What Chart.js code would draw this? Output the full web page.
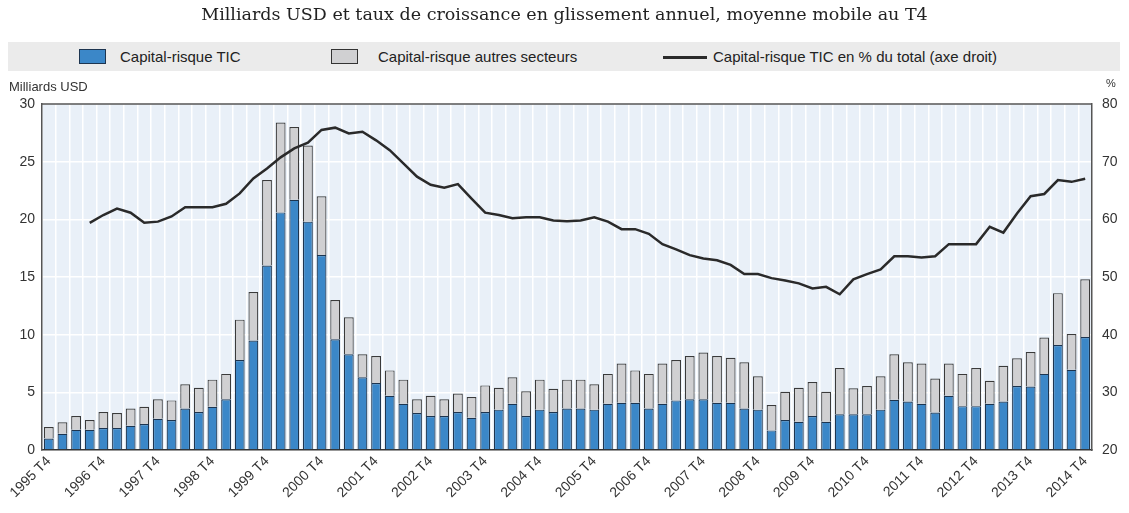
<!DOCTYPE html>
<html lang="fr">
<head>
<meta charset="utf-8">
<script src="https://cdn.jsdelivr.net/npm/chart.js@4.4.1/dist/chart.umd.min.js"></script>
<style>
  body { margin: 0; background: #fff; }
  #wrap { position: relative; width: 1129px; height: 513px; overflow: hidden; }
  #chart { position: absolute; left: 0; top: 0; }
  .txt { position: absolute; white-space: nowrap; color: #222; }
  #title { left: 0; width: 1129px; top: 4px; text-align: center; font: 17.5px "DejaVu Serif", serif; }
  #legend { position: absolute; left: 8px; top: 42px; width: 1112px; height: 29px; background: #ebebeb; }
  .lg { font: 15px "Liberation Sans", Arial, sans-serif; color: #222; top: 48px; }
  .sw { position: absolute; top: 49px; width: 25px; height: 13px; border: 1px solid #333; }
  .axt { font: 13px "Liberation Sans", Arial, sans-serif; color: #333; }
</style>
</head>
<body>
<div id="wrap">
  <canvas id="chart" width="1129" height="513"></canvas>
  <div id="title" class="txt">Milliards USD et taux de croissance en glissement annuel, moyenne mobile au T4</div>
  <div id="legend"></div>
  <div class="sw" style="left:79px; background:#3b87c8; border-color:#1d3550;"></div>
  <div class="txt lg" style="left:120px;">Capital-risque TIC</div>
  <div class="sw" style="left:331px; background:#d0d0d2;"></div>
  <div class="txt lg" style="left:378px;">Capital-risque autres secteurs</div>
  <div style="position:absolute; left:663px; top:56px; width:44px; height:3px; background:#2a2a2a;"></div>
  <div class="txt lg" style="left:713px;">Capital-risque TIC en % du total (axe droit)</div>
  <div class="txt axt" style="left:9px; top:79px;">Milliards USD</div>
  <div class="txt axt" style="left:1106px; top:77px; font-size:11px;">%</div>
</div>

<script>
// ===============================
// Data
// ===============================

// Quarters from 1995 T4 to 2014 T4
const firstYear = 1995;
const lastYear = 2014;
const quarterLabels = [];
for (let y = firstYear; y <= lastYear; y++) {
  for (let q = 1; q <= 4; q++) {
    if (y === firstYear && q < 4) continue;
    quarterLabels.push(y + " T" + q);
  }
}

// Capital-risque TIC (Milliards USD)
const ticValues = [
  1.0, 1.4, 1.75, 1.75, 1.9, 1.9, 2.1, 2.25, 2.7, 2.6,
  3.6, 3.3, 3.75, 4.4, 7.8, 9.5, 16.0, 20.6, 21.7, 19.8,
  16.9, 9.6, 8.3, 6.3, 5.8, 4.7, 4.0, 3.2, 2.95, 2.95,
  3.3, 2.8, 3.3, 3.5, 4.0, 2.95, 3.5, 3.3, 3.6, 3.6,
  3.5, 4.0, 4.1, 4.1, 3.6, 4.0, 4.3, 4.4, 4.4, 4.1,
  4.1, 3.6, 3.5, 1.7, 2.6, 2.45, 2.95, 2.45, 3.1, 3.1,
  3.1, 3.5, 4.35, 4.2, 4.0, 3.25, 4.7, 3.8, 3.8, 4.0,
  4.2, 5.55, 5.5, 6.6, 9.1, 6.95, 9.8
];

// Capital-risque autres secteurs (Milliards USD)
const otherValues = [
  1.0, 1.0, 1.2, 0.85, 1.4, 1.3, 1.5, 1.5, 1.7, 1.7,
  2.1, 2.1, 2.35, 2.2, 3.5, 4.2, 7.4, 7.8, 6.3, 6.6,
  5.1, 3.4, 3.2, 2.0, 2.35, 2.2, 2.1, 1.2, 1.75, 1.45,
  1.6, 1.8, 2.3, 1.9, 2.3, 2.15, 2.6, 2.0, 2.5, 2.5,
  2.2, 2.6, 3.4, 2.8, 3.0, 3.5, 3.5, 3.75, 4.05, 4.05,
  3.9, 4.0, 2.9, 2.2, 2.45, 2.95, 2.95, 2.6, 4.0, 2.25,
  2.45, 2.9, 3.95, 3.4, 3.5, 2.95, 2.8, 2.8, 3.3, 2.0,
  3.1, 2.4, 3.0, 3.15, 4.5, 3.1, 5.0
];

// Capital-risque TIC en % du total (axe droit)
const ticShare = [
  null, null, null, 59.4, 60.75, 61.85, 61.15, 59.4, 59.6, 60.5,
  62.1, 62.1, 62.1, 62.7, 64.5, 67.1, 68.8, 70.75, 72.3, 73.3,
  75.5, 75.9, 74.9, 75.2, 73.7, 72.0, 69.7, 67.4, 66.0, 65.5,
  66.1, 63.6, 61.15, 60.75, 60.2, 60.35, 60.35, 59.8, 59.65, 59.8,
  60.35, 59.6, 58.3, 58.3, 57.5, 55.7, 54.8, 53.8, 53.2, 52.9,
  52.1, 50.5, 50.5, 49.8, 49.4, 48.9, 48.0, 48.3, 47.0, 49.6,
  50.5, 51.3, 53.6, 53.6, 53.4, 53.6, 55.7, 55.7, 55.7, 58.7,
  57.7, 61.0, 64.0, 64.4, 66.8, 66.5, 67.05
];

// Axis ranges
const leftTicks = { min: 0, max: 30, step: 5 };
const rightTicks = { min: 20, max: 80, step: 10 };

// ===============================
// Plot background & frame
// ===============================
const plotFrame = {
  id: "plotFrame",
  beforeDraw(chart) {
    const { ctx, chartArea: a } = chart;
    ctx.save();
    ctx.fillStyle = "#e9f0f8";
    ctx.fillRect(a.left, a.top, a.right - a.left, a.bottom - a.top);
    ctx.restore();
  },
  afterDraw(chart) {
    const { ctx, chartArea: a } = chart;
    ctx.save();
    ctx.strokeStyle = "#555";
    ctx.lineWidth = 1.5;
    ctx.beginPath();
    ctx.moveTo(a.left, a.top);
    ctx.lineTo(a.right, a.top);
    ctx.stroke();
    ctx.restore();
  }
};

const tickFont = { family: "'Liberation Sans', Arial, sans-serif", size: 14 };

new Chart(document.getElementById("chart"), {
  type: "bar",
  data: {
    labels: quarterLabels,
    datasets: [
      {
        type: "line",
        label: "Capital-risque TIC en % du total (axe droit)",
        data: ticShare,
        yAxisID: "y1",
        borderColor: "#2a2a2a",
        borderWidth: 2.5,
        pointRadius: 0,
        tension: 0,
        order: 0
      },
      {
        label: "Capital-risque TIC",
        data: ticValues,
        backgroundColor: "#3b87c8",
        borderColor: "#1d3550",
        borderWidth: 1.2,
        stack: "s",
        order: 1
      },
      {
        label: "Capital-risque autres secteurs",
        data: otherValues,
        backgroundColor: "#d0d0d2",
        borderColor: "#3a3a3a",
        borderWidth: 1.2,
        stack: "s",
        order: 1
      }
    ]
  },
  options: {
    responsive: false,
    animation: false,
    layout: { padding: { top: 104, left: 12, right: 0, bottom: 0 } },
    datasets: { bar: { categoryPercentage: 1, barPercentage: 0.72 } },
    plugins: {
      legend: { display: false },
      tooltip: { enabled: false }
    },
    scales: {
      x: {
        stacked: true,
        grid: { color: "#ffffff", lineWidth: 1.5, drawTicks: false, offset: true },
        border: { color: "#333", width: 1.5 },
        ticks: {
          autoSkip: false,
          maxRotation: 45,
          minRotation: 45,
          padding: 3,
          color: "#333",
          font: { family: tickFont.family, size: 14 },
          callback: (value, index) => (index % 4 === 0 ? quarterLabels[index] : "")
        },
        afterFit: scale => { scale.height = 63; }
      },
      y: {
        stacked: true,
        min: leftTicks.min,
        max: leftTicks.max,
        grid: { color: "#ffffff", lineWidth: 1.5, drawTicks: false },
        border: { color: "#555", width: 1.5 },
        ticks: { stepSize: leftTicks.step, padding: 7, color: "#333", font: tickFont },
        afterFit: scale => { scale.width = 30; }
      },
      y1: {
        position: "right",
        min: rightTicks.min,
        max: rightTicks.max,
        grid: { drawOnChartArea: false, drawTicks: false },
        border: { color: "#555", width: 1.5 },
        ticks: { stepSize: rightTicks.step, padding: 10, color: "#333", font: tickFont },
        afterFit: scale => { scale.width = 37; }
      }
    }
  },
  plugins: [plotFrame]
});
</script>
</body>
</html>
